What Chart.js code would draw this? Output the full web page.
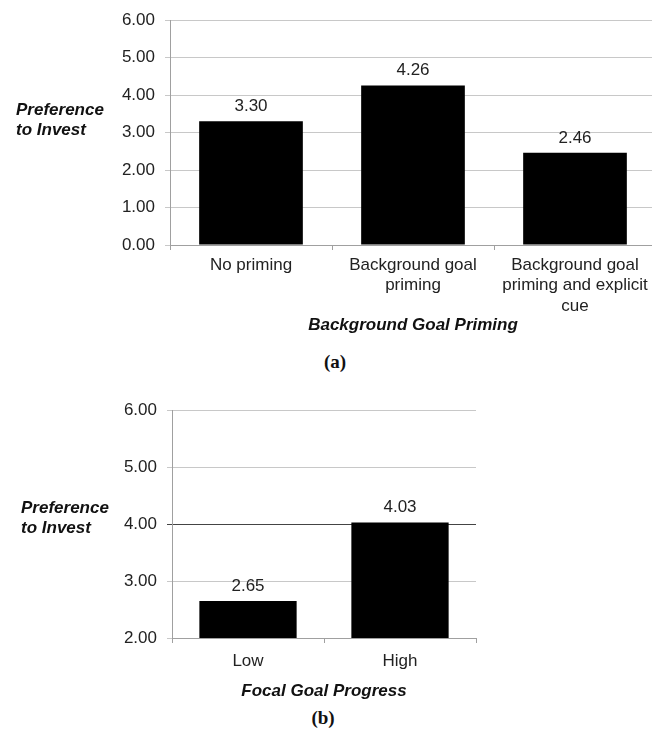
<!DOCTYPE html>
<html>
<head>
<meta charset="utf-8">
<script src="https://cdn.jsdelivr.net/npm/chart.js@4.4.1/dist/chart.umd.min.js"></script>
<style>
  html, body { margin: 0; padding: 0; background: #fff; }
  body { position: relative; width: 652px; height: 734px; overflow: hidden; }
  canvas { position: absolute; left: 0; }
  #chartA { top: 0; }
  #chartB { top: 390px; }
  .cap { position: absolute; font: bold 19px "Liberation Serif", "Times New Roman", serif; color: #111; transform: translate(-50%, -50%); }
</style>
</head>
<body>
<canvas id="chartA" width="660" height="340"></canvas>
<canvas id="chartB" width="500" height="316"></canvas>
<div class="cap" style="left:335px; top:362px;">(a)</div>
<div class="cap" style="left:323px; top:718px;">(b)</div>
<script>
// panel (a): background goal priming
const primingLabels = [["No priming"], ["Background goal", "priming"], ["Background goal", "priming and explicit", "cue"]];
const primingValues = [3.30, 4.26, 2.46];
const primingTicks = [0, 1, 2, 3, 4, 5, 6];

// panel (b): focal goal progress
const progressLabels = ["Low", "High"];
const progressValues = [2.65, 4.03];
const progressTicks = [2, 3, 4, 5, 6];

const yTitleLines = ["Preference", "to Invest"];

Chart.defaults.font.family = "'Liberation Sans', Arial, sans-serif";
Chart.defaults.font.size = 17;
Chart.defaults.color = "#222";

// draws the value above each bar
const valueLabels = {
  id: "valueLabels",
  afterDatasetsDraw(chart) {
    const ctx = chart.ctx;
    const meta = chart.getDatasetMeta(0);
    const data = chart.data.datasets[0].data;
    ctx.save();
    ctx.font = "17px 'Liberation Sans', Arial, sans-serif";
    ctx.fillStyle = "#222";
    ctx.textAlign = "center";
    ctx.textBaseline = "alphabetic";
    meta.data.forEach((bar, i) => {
      ctx.fillText(data[i].toFixed(2), bar.x, bar.y - 10);
    });
    ctx.restore();
  }
};

// horizontal y-axis title on the left
const sideTitle = {
  id: "sideTitle",
  afterDraw(chart, args, opts) {
    const ctx = chart.ctx;
    ctx.save();
    ctx.font = "italic bold 17px 'Liberation Sans', Arial, sans-serif";
    ctx.fillStyle = "#111";
    ctx.textAlign = "left";
    ctx.textBaseline = "alphabetic";
    yTitleLines.forEach((line, i) => {
      ctx.fillText(line, opts.x, opts.y + i * 20);
    });
    ctx.restore();
  }
};

function makeChart(id, labels, values, ticks, cfg) {
  return new Chart(document.getElementById(id), {
    type: "bar",
    data: {
      labels: labels,
      datasets: [{
        data: values,
        backgroundColor: "#000",
        borderWidth: 0,
        categoryPercentage: 0.64,
        barPercentage: 1
      }]
    },
    options: {
      responsive: false,
      animation: false,
      layout: { padding: cfg.padding },
      plugins: {
        legend: { display: false },
        tooltip: { enabled: false },
        sideTitle: cfg.side
      },
      scales: {
        x: {
          grid: { drawOnChartArea: false, tickLength: 5, color: "#a0a0a0" },
          border: { color: "#a0a0a0" },
          ticks: { padding: cfg.xPad, maxRotation: 0, autoSkip: false },
          title: {
            display: true,
            text: cfg.xTitle,
            font: { weight: "bold", style: "italic", size: 17 },
            color: "#111"
          },
          afterFit(scale) { scale.height = cfg.xHeight; }
        },
        y: {
          min: ticks[0],
          max: ticks[ticks.length - 1],
          afterBuildTicks(scale) { scale.ticks = ticks.map(v => ({ value: v })); },
          grid: {
            tickLength: 5,
            color: ctx => (cfg.darkLine !== undefined && ctx.tick && ctx.tick.value === cfg.darkLine) ? "#444" : "#c8c8c8"
          },
          border: { color: "#a0a0a0" },
          ticks: { padding: 10, callback: v => Number(v).toFixed(2) },
          afterFit(scale) { scale.width = cfg.yWidth; }
        }
      }
    },
    plugins: [valueLabels, sideTitle]
  });
}

makeChart("chartA", primingLabels, primingValues, primingTicks, {
  padding: { top: 15, right: 4, bottom: 0, left: 0 },
  xTitle: "Background Goal Priming",
  xHeight: 95,
  xPad: 5,
  yWidth: 170,
  side: { x: 16, y: 115 }
});

makeChart("chartB", progressLabels, progressValues, progressTicks, {
  padding: { top: 20, right: 24, bottom: 0, left: 0 },
  xTitle: "Focal Goal Progress",
  xHeight: 68,
  xPad: 8,
  yWidth: 172,
  darkLine: 4,
  side: { x: 21, y: 123 }
});
</script>
</body>
</html>
